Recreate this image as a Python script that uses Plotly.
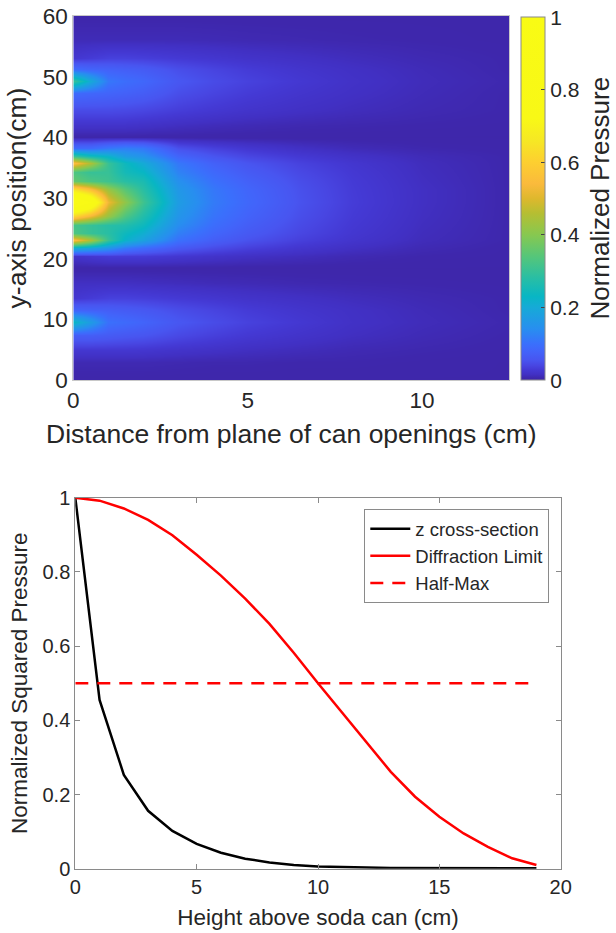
import plotly.graph_objects as go

# ---- Pressure field in front of the can array (normalized) ----
dist_cm = [0, 0.5, 1, 1.5, 2, 3, 4, 5, 6.5, 8, 10, 12.5]
ypos_cm = [0, 3, 5, 7.5, 9.6, 11.5, 13.5, 16, 18.5, 20.5, 21.8, 23.1, 24.3, 25.5, 27,
           29.4, 31.5, 32.8, 34.3, 35.7, 37, 38.2, 40, 42, 44.5, 47.3, 49.3, 51.2, 53, 56, 60]

pressure = [
    [0.003, 0.003, 0.003, 0.003, 0.003, 0.003, 0.003, 0.003, 0.003, 0.003, 0.003, 0.003],   # 0
    [0.008, 0.008, 0.008, 0.008, 0.008, 0.007, 0.006, 0.006, 0.005, 0.005, 0.004, 0.003],   # 3
    [0.025, 0.025, 0.025, 0.025, 0.024, 0.020, 0.017, 0.014, 0.011, 0.008, 0.006, 0.004],   # 5
    [0.070, 0.070, 0.065, 0.060, 0.056, 0.043, 0.034, 0.027, 0.020, 0.014, 0.009, 0.005],   # 7.5
    [0.230, 0.170, 0.100, 0.090, 0.080, 0.058, 0.046, 0.036, 0.026, 0.017, 0.011, 0.006],   # 9.6
    [0.080, 0.075, 0.070, 0.065, 0.060, 0.047, 0.038, 0.030, 0.022, 0.016, 0.010, 0.005],   # 11.5
    [0.025, 0.030, 0.035, 0.035, 0.033, 0.028, 0.024, 0.020, 0.016, 0.012, 0.008, 0.005],   # 13.5
    [0.015, 0.015, 0.015, 0.015, 0.014, 0.012, 0.010, 0.009, 0.007, 0.006, 0.005, 0.004],   # 16
    [0.003, 0.003, 0.003, 0.003, 0.003, 0.003, 0.003, 0.003, 0.003, 0.003, 0.003, 0.003],   # 18.5
    [0.020, 0.025, 0.030, 0.030, 0.030, 0.025, 0.020, 0.016, 0.012, 0.008, 0.005, 0.004],   # 20.5
    [0.200, 0.180, 0.150, 0.110, 0.090, 0.060, 0.045, 0.034, 0.023, 0.015, 0.008, 0.004],   # 21.8
    [0.560, 0.450, 0.300, 0.220, 0.180, 0.100, 0.070, 0.052, 0.034, 0.022, 0.011, 0.005],   # 23.1
    [0.330, 0.300, 0.280, 0.240, 0.210, 0.120, 0.083, 0.062, 0.040, 0.025, 0.012, 0.005],   # 24.3
    [0.320, 0.300, 0.280, 0.270, 0.240, 0.140, 0.095, 0.070, 0.044, 0.027, 0.013, 0.005],   # 25.5
    [0.620, 0.530, 0.420, 0.330, 0.270, 0.155, 0.105, 0.078, 0.048, 0.029, 0.014, 0.005],   # 27
    [1.000, 0.860, 0.520, 0.410, 0.310, 0.170, 0.115, 0.086, 0.052, 0.031, 0.015, 0.005],   # 29.4
    [0.640, 0.550, 0.420, 0.340, 0.280, 0.160, 0.110, 0.082, 0.050, 0.030, 0.015, 0.005],   # 31.5
    [0.360, 0.330, 0.310, 0.280, 0.260, 0.145, 0.100, 0.075, 0.047, 0.029, 0.014, 0.005],   # 32.8
    [0.330, 0.300, 0.300, 0.250, 0.230, 0.125, 0.088, 0.065, 0.042, 0.027, 0.013, 0.005],   # 34.3
    [0.560, 0.450, 0.300, 0.240, 0.200, 0.110, 0.075, 0.055, 0.036, 0.024, 0.012, 0.005],   # 35.7
    [0.300, 0.250, 0.220, 0.170, 0.150, 0.080, 0.055, 0.040, 0.027, 0.018, 0.010, 0.005],   # 37
    [0.090, 0.090, 0.110, 0.120, 0.110, 0.050, 0.035, 0.025, 0.016, 0.010, 0.006, 0.004],   # 38.2
    [0.003, 0.003, 0.003, 0.003, 0.003, 0.003, 0.003, 0.003, 0.003, 0.003, 0.003, 0.003],   # 40
    [0.020, 0.020, 0.020, 0.020, 0.018, 0.014, 0.011, 0.009, 0.007, 0.006, 0.005, 0.004],   # 42
    [0.045, 0.045, 0.045, 0.043, 0.040, 0.032, 0.026, 0.021, 0.016, 0.012, 0.008, 0.005],   # 44.5
    [0.090, 0.085, 0.080, 0.075, 0.068, 0.048, 0.038, 0.030, 0.022, 0.016, 0.010, 0.005],   # 47.3
    [0.300, 0.200, 0.110, 0.095, 0.085, 0.058, 0.045, 0.036, 0.026, 0.018, 0.011, 0.006],   # 49.3
    [0.090, 0.080, 0.075, 0.070, 0.065, 0.048, 0.038, 0.030, 0.022, 0.016, 0.010, 0.005],   # 51.2
    [0.025, 0.030, 0.035, 0.035, 0.033, 0.028, 0.024, 0.020, 0.016, 0.012, 0.008, 0.005],   # 53
    [0.010, 0.010, 0.010, 0.010, 0.010, 0.010, 0.009, 0.008, 0.007, 0.006, 0.005, 0.004],   # 56
    [0.004, 0.004, 0.004, 0.004, 0.004, 0.004, 0.004, 0.004, 0.004, 0.004, 0.004, 0.004],   # 60
]

# ---- Axial profile above the soda can ----
height_cm = list(range(0, 20))
z_cross = [1.0, 0.455, 0.253, 0.156, 0.102, 0.067, 0.043, 0.027, 0.017, 0.010,
           0.006, 0.004, 0.003, 0.002, 0.0015, 0.001, 0.001, 0.001, 0.001, 0.001]
diff_limit = [1.0, 0.992, 0.971, 0.940, 0.899, 0.846, 0.790, 0.728, 0.660, 0.582,
              0.500, 0.420, 0.339, 0.261, 0.194, 0.140, 0.095, 0.059, 0.028, 0.010]
half_max_x = [0, 19]
half_max_y = [0.5, 0.5]

# colour map (dark indigo -> blue -> teal -> green -> orange -> yellow)
cmap_pos = [0.0, 0.005, 0.015, 0.028, 0.04, 0.055, 0.08, 0.10, 0.14, 0.20, 0.23,
            0.28, 0.34, 0.40, 0.46, 0.50, 0.54, 0.60, 0.66, 0.72, 1.0]
cmap_rgb = ["rgb(61,38,168)", "rgb(62,39,172)", "rgb(65,48,195)", "rgb(68,57,212)",
            "rgb(72,70,226)", "rgb(72,85,240)", "rgb(66,100,250)", "rgb(58,112,252)",
            "rgb(40,142,240)", "rgb(22,170,215)", "rgb(8,182,196)", "rgb(40,190,165)",
            "rgb(85,198,122)", "rgb(135,200,80)", "rgb(182,190,50)", "rgb(222,184,45)",
            "rgb(250,186,60)", "rgb(253,207,48)", "rgb(246,232,36)", "rgb(248,248,22)",
            "rgb(249,251,20)"]
colorscale = [[p, c] for p, c in zip(cmap_pos, cmap_rgb)]

W, H = 616, 933
FONT = "Liberation Sans, Arial, sans-serif"
TXT = "#262626"
AX = "#8a8a8a"

def px_x(a, b):
    return [a / W, b / W]

def px_y(top, bottom):
    return [1 - bottom / H, 1 - top / H]

fig = go.Figure()

fig.add_trace(go.Heatmap(
    x=dist_cm, y=ypos_cm, z=pressure,
    zmin=0, zmax=1, zsmooth="best",
    colorscale=colorscale,
    xaxis="x", yaxis="y",
    colorbar=dict(
        x=521 / W, xanchor="left", xref="paper",
        y=1 - (17.3 + 380) / 2 / H, yanchor="middle",
        len=362.7 / H, lenmode="fraction",
        thickness=24, thicknessmode="pixels",
        outlinecolor=AX, outlinewidth=1,
        ticks="inside", ticklen=4, tickcolor="#444444",
        tickvals=[0, 0.2, 0.4, 0.6, 0.8, 1],
        ticktext=["0", "0.2", "0.4", "0.6", "0.8", "1"],
        tickfont=dict(family=FONT, size=21, color=TXT),
        ypad=0, xpad=0,
    ),
    showscale=True,
))

fig.add_trace(go.Scatter(
    x=height_cm, y=z_cross, mode="lines", name="z cross-section",
    line=dict(color="black", width=2.5),
    xaxis="x2", yaxis="y2",
))
fig.add_trace(go.Scatter(
    x=height_cm, y=diff_limit, mode="lines", name="Diffraction Limit",
    line=dict(color="#ff0000", width=2.5),
    xaxis="x2", yaxis="y2",
))
fig.add_trace(go.Scatter(
    x=half_max_x, y=half_max_y, mode="lines", name="Half-Max",
    line=dict(color="#ff0000", width=2.5, dash="13px,9px"),
    xaxis="x2", yaxis="y2",
))

fig.update_layout(
    width=W, height=H,
    margin=dict(l=0, r=0, t=0, b=0, autoexpand=False),
    paper_bgcolor="white", plot_bgcolor="white",
    font=dict(family=FONT, color=TXT),
    showlegend=True,
    legend=dict(
        x=549.3 / W, xanchor="right", y=1 - 509.3 / H, yanchor="top",
        bgcolor="white", bordercolor=AX, borderwidth=1,
        font=dict(family=FONT, size=18.5, color=TXT),
        tracegroupgap=0, itemwidth=40,
    ),
    xaxis=dict(
        domain=px_x(73.3, 509.3), anchor="y", range=[0, 12.5], automargin=False,
        tickvals=[0, 5, 10], ticks="", showgrid=False, zeroline=False,
        showline=True, linecolor="#c8c8c8", linewidth=1, mirror=True,
        tickfont=dict(size=22.5, family=FONT, color=TXT),
        title=dict(text="Distance from plane of can openings (cm)",
                   font=dict(size=26.5, family=FONT, color=TXT), standoff=12),
    ),
    yaxis=dict(
        domain=px_y(16, 380), anchor="x", range=[0, 60], automargin=False,
        tickvals=[0, 10, 20, 30, 40, 50, 60], ticks="", showgrid=False, zeroline=False,
        showline=True, linecolor="#c8c8c8", linewidth=1, mirror=True,
        tickfont=dict(size=22.5, family=FONT, color=TXT),
        title=dict(text="y-axis position(cm)",
                   font=dict(size=26.5, family=FONT, color=TXT), standoff=8),
    ),
    xaxis2=dict(
        domain=px_x(75.3, 560.7), anchor="y2", range=[0, 20], automargin=False,
        tickvals=[0, 5, 10, 15, 20], ticks="inside", ticklen=5, tickcolor=AX,
        showgrid=False, zeroline=False,
        showline=True, linecolor=AX, linewidth=1, mirror="allticks",
        tickfont=dict(size=20, family=FONT, color=TXT),
        title=dict(text="Height above soda can (cm)",
                   font=dict(size=22.5, family=FONT, color=TXT), standoff=12),
    ),
    yaxis2=dict(
        domain=px_y(497.7, 868.7), anchor="x2", range=[0, 1], automargin=False,
        tickvals=[0, 0.2, 0.4, 0.6, 0.8, 1],
        ticktext=["0", "0.2", "0.4", "0.6", "0.8", "1"],
        ticks="inside", ticklen=5, tickcolor=AX,
        showgrid=False, zeroline=False,
        showline=True, linecolor=AX, linewidth=1, mirror="allticks",
        tickfont=dict(size=20, family=FONT, color=TXT),
        title=dict(text="Normalized Squared Pressure",
                   font=dict(size=22.5, family=FONT, color=TXT), standoff=8),
    ),
    annotations=[dict(
        text="Normalized Pressure", textangle=-90,
        x=600 / W, y=1 - 198.6 / H, xref="paper", yref="paper",
        xanchor="center", yanchor="middle", showarrow=False,
        font=dict(size=26, family=FONT, color=TXT),
    )],
)

fig.write_html("out.html")
